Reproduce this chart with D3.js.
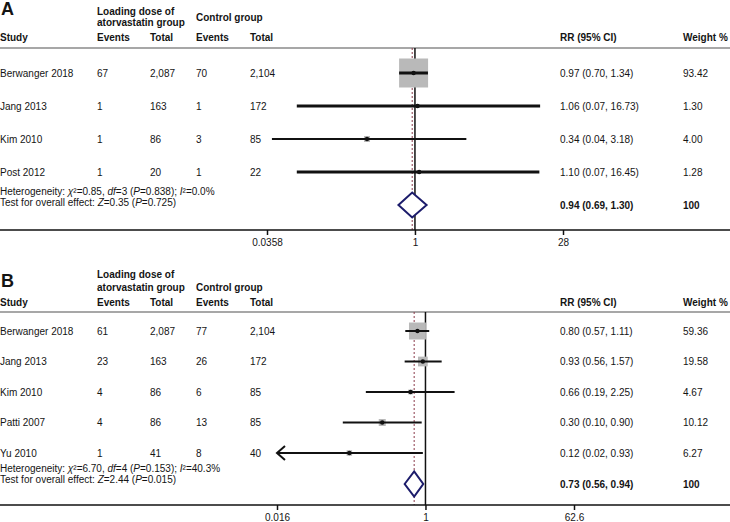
<!DOCTYPE html>
<html><head><meta charset="utf-8">
<script src="https://cdn.jsdelivr.net/npm/d3@7"></script>
<style>
body{margin:0;background:#fff}
text{font-family:"Liberation Sans",Arial,sans-serif;fill:#141414;font-size:10px}
</style>
</head><body><svg id="c" width="730" height="522"></svg>
<script>
// ---------- Panel A data ----------
const studiesA   = ["Berwanger 2018","Jang 2013","Kim 2010","Post 2012"];
const evTreatA   = ["67","1","1","1"];
const totTreatA  = ["2,087","163","86","20"];
const evCtrlA    = ["70","1","3","1"];
const totCtrlA   = ["2,104","172","85","22"];
const rrA        = [0.97,1.06,0.34,1.10];
const loA        = [0.70,0.07,0.04,0.07];
const hiA        = [1.34,16.73,3.18,16.45];
const ciTextA    = ["0.97 (0.70, 1.34)","1.06 (0.07, 16.73)","0.34 (0.04, 3.18)","1.10 (0.07, 16.45)"];
const weightA    = [93.42,1.30,4.00,1.28];
const weightTextA= ["93.42","1.30","4.00","1.28"];
const pooledA    = [0.94,0.69,1.30];
const pooledTextA= ["0.94 (0.69, 1.30)","100"];
const ticksA     = [0.0358,1,28];
const tickLabelsA= ["0.0358","1","28"];
const hetA       = ["0.85","3","0.838","0.0%"];
const overallA   = ["0.35","0.725"];

// ---------- Panel B data ----------
const studiesB   = ["Berwanger 2018","Jang 2013","Kim 2010","Patti 2007","Yu 2010"];
const evTreatB   = ["61","23","4","4","1"];
const totTreatB  = ["2,087","163","86","86","41"];
const evCtrlB    = ["77","26","6","13","8"];
const totCtrlB   = ["2,104","172","85","85","40"];
const rrB        = [0.80,0.93,0.66,0.30,0.12];
const loB        = [0.57,0.56,0.19,0.10,0.015];
const hiB        = [1.11,1.57,2.25,0.90,0.93];
const ciTextB    = ["0.80 (0.57, 1.11)","0.93 (0.56, 1.57)","0.66 (0.19, 2.25)","0.30 (0.10, 0.90)","0.12 (0.02, 0.93)"];
const weightB    = [59.36,19.58,4.67,10.12,6.27];
const weightTextB= ["59.36","19.58","4.67","10.12","6.27"];
const pooledB    = [0.73,0.56,0.94];
const pooledTextB= ["0.73 (0.56, 0.94)","100"];
const ticksB     = [0.016,1,62.6];
const tickLabelsB= ["0.016","1","62.6"];
const hetB       = ["6.70","4","0.153","40.3%"];
const overallB   = ["2.44","0.015"];

const svg = d3.select("#c");
const FONT_OFF = 3.5; // center -> baseline for 10px text

function drawPanel(d, L) {
  const g = svg.append("g");
  const x = d3.scaleLog().domain([d.ticks[0], d.ticks[d.ticks.length-1]]).range(L.xr);
  const y = i => L.row0 + i*L.step;

  // panel letter
  g.append("text").attr("x",1).attr("y",L.letterY).style("font-size","18px").style("font-weight","bold").text(d.letter);

  // header
  const hb = (txt, xx, yc) => g.append("text").attr("x",xx).attr("y",yc+FONT_OFF).style("font-weight","bold").text(txt);
  hb("Loading dose of", 97, L.h1);
  hb("atorvastatin group", 97, L.h2);
  hb("Control group", 196, L.hc);
  hb("Study", 0, L.hs); hb("Events", 97, L.hs); hb("Total", 150, L.hs);
  hb("Events", 196, L.hs); hb("Total", 250, L.hs);
  hb("RR (95% CI)", 560, L.hs); hb("Weight %", 683, L.hs);

  g.append("line").attr("x1",0).attr("x2",730).attr("y1",L.lineY).attr("y2",L.lineY)
    .attr("stroke","#8a8a8a").attr("stroke-width",1.5);

  // table rows
  d.studies.forEach((s,i)=>{
    const yy = y(i)+FONT_OFF;
    [[s,0],[d.evT[i],97],[d.totT[i],150],[d.evC[i],196],[d.totC[i],250],[d.ci[i],560],[d.wt[i],683]]
      .forEach(([t,xx])=>g.append("text").attr("x",xx).attr("y",yy).text(t));
  });

  // heterogeneity & overall effect
  const het = g.append("text").attr("x",0).attr("y",L.het+FONT_OFF);
  het.append("tspan").text("Heterogeneity: ");
  het.append("tspan").style("font-style","italic").text("χ");
  het.append("tspan").text("²="+d.het[0]+", ");
  het.append("tspan").style("font-style","italic").text("df");
  het.append("tspan").text("="+d.het[1]+" (");
  het.append("tspan").style("font-style","italic").text("P");
  het.append("tspan").text("="+d.het[2]+"); ");
  het.append("tspan").style("font-style","italic").text("I");
  het.append("tspan").text("²="+d.het[3]);

  const ov = g.append("text").attr("x",0).attr("y",L.test+FONT_OFF);
  ov.append("tspan").text("Test for overall effect: ");
  ov.append("tspan").style("font-style","italic").text("Z");
  ov.append("tspan").text("="+d.overall[0]+" (");
  ov.append("tspan").style("font-style","italic").text("P");
  ov.append("tspan").text("="+d.overall[1]+")");

  g.append("text").attr("x",560).attr("y",L.pool+FONT_OFF).style("font-weight","bold").text(d.pooledText[0]);
  g.append("text").attr("x",683).attr("y",L.pool+FONT_OFF).style("font-weight","bold").text(d.pooledText[1]);

  // reference lines
  g.append("line").attr("x1",x(1)).attr("x2",x(1)).attr("y1",L.lineY).attr("y2",L.axisY)
    .attr("stroke","#111").attr("stroke-width",1.5);
  g.append("line").attr("x1",x(d.pooled[0])).attr("x2",x(d.pooled[0])).attr("y1",L.lineY).attr("y2",L.axisY)
    .attr("stroke","#8a3a4a").attr("stroke-width",1).attr("stroke-dasharray","2,2");

  // boxes
  d.studies.forEach((s,i)=>{
    const side = L.boxK*Math.sqrt(d.weight[i]);
    g.append("rect").attr("x",x(d.rr[i])-side/2).attr("y",y(i)-side/2)
      .attr("width",side).attr("height",side).attr("fill","#b9b9b9");
  });
  // CI lines
  const xmin = L.xr[0];
  d.studies.forEach((s,i)=>{
    const lo = Math.max(x(d.lo[i]), xmin);
    const clipped = x(d.lo[i]) < xmin;
    const w = L.ciW(i);
    g.append("line").attr("x1",lo).attr("x2",x(d.hi[i])).attr("y1",y(i)).attr("y2",y(i))
      .attr("stroke","#111").attr("stroke-width",w);
    if (clipped) {
      g.append("path").attr("d",`M${lo+8},${y(i)-7}L${lo},${y(i)}L${lo+8},${y(i)+7}`)
        .attr("fill","none").attr("stroke","#111").attr("stroke-width",2);
    }
    g.append("circle").attr("cx",x(d.rr[i])).attr("cy",y(i)).attr("r",2.2).attr("fill","#111");
  });

  // pooled diamond
  const pc = L.pool, hh = 12.5;
  g.append("path")
    .attr("d",`M${x(d.pooled[1])},${pc}L${x(d.pooled[0])},${pc-hh}L${x(d.pooled[2])},${pc}L${x(d.pooled[0])},${pc+hh}Z`)
    .attr("fill","#fff").attr("stroke","#1c1c6b").attr("stroke-width",2);

  // axis
  g.append("line").attr("x1",0).attr("x2",730).attr("y1",L.axisY).attr("y2",L.axisY)
    .attr("stroke","#111").attr("stroke-width",1.5);
  const ax = g.append("g").attr("transform",`translate(0,${L.axisY})`)
    .call(d3.axisBottom(x).tickValues(d.ticks).tickFormat((v,i)=>d.tickLabels[i]).tickSize(5).tickPadding(4));
  ax.select(".domain").remove();
  ax.selectAll(".tick line").attr("stroke","#111").attr("stroke-width",1.5);
  ax.selectAll(".tick text").attr("font-family",null).style("font-size","10px").attr("fill","#141414");
}

drawPanel({
  letter:"A", studies:studiesA, evT:evTreatA, totT:totTreatA, evC:evCtrlA, totC:totCtrlA,
  rr:rrA, lo:loA, hi:hiA, ci:ciTextA, weight:weightA, wt:weightTextA,
  pooled:pooledA, pooledText:pooledTextA, ticks:ticksA, tickLabels:tickLabelsA, het:hetA, overall:overallA
},{
  xr:[267,563], letterY:15, h1:11.5, h2:22.5, hc:17.5, hs:37.5, lineY:48,
  row0:73, step:33, het:191, test:202, pool:205, axisY:230, boxK:3.0,
  ciW: i => (i===2 ? 1.8 : 3)
});

drawPanel({
  letter:"B", studies:studiesB, evT:evTreatB, totT:totTreatB, evC:evCtrlB, totC:totCtrlB,
  rr:rrB, lo:loB, hi:hiB, ci:ciTextB, weight:weightB, wt:weightTextB,
  pooled:pooledB, pooledText:pooledTextB, ticks:ticksB, tickLabels:tickLabelsB, het:hetB, overall:overallB
},{
  xr:[277,574], letterY:287, h1:274, h2:287, hc:287, hs:302, lineY:312,
  row0:331, step:30.5, het:468, test:479, pool:484, axisY:505, boxK:2.2,
  ciW: i => 2
});
</script>
</body></html>
